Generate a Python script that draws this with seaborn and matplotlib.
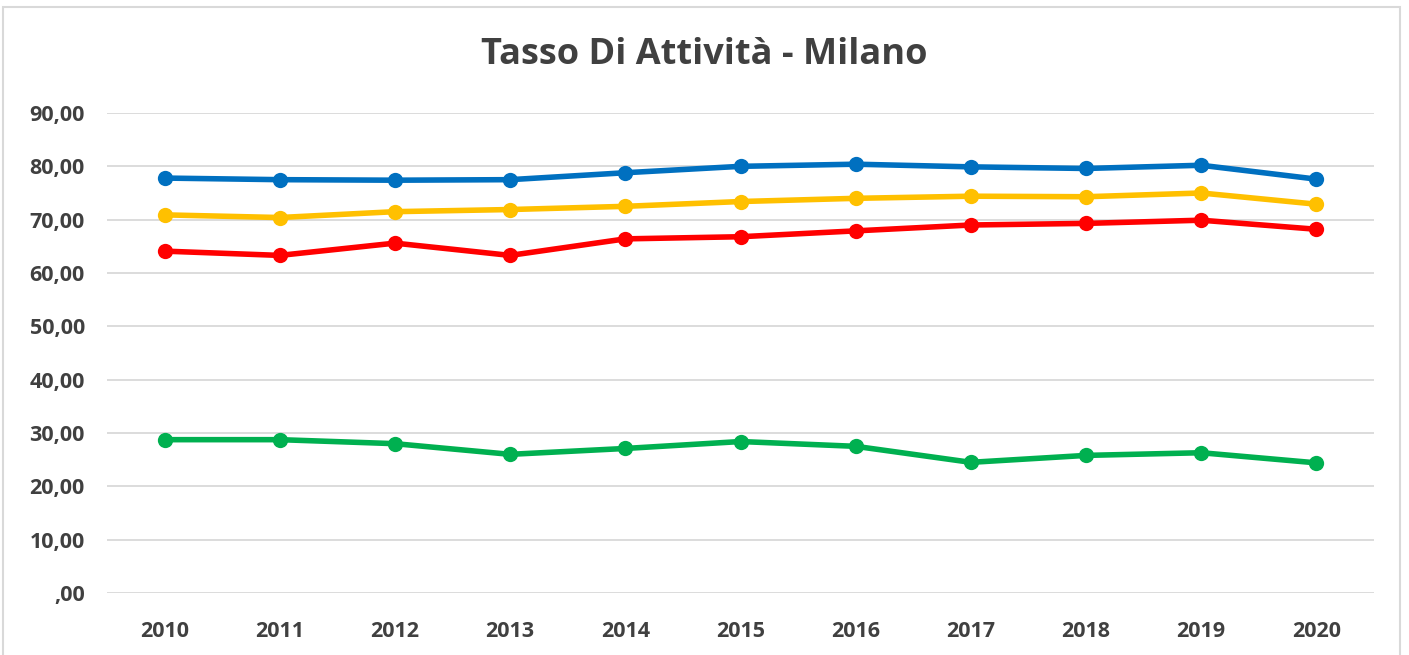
import matplotlib
matplotlib.use("Agg")
import matplotlib.pyplot as plt
import seaborn as sns
import pandas as pd
from matplotlib.patches import Rectangle

years = ["2010", "2011", "2012", "2013", "2014", "2015", "2016", "2017", "2018", "2019", "2020"]
blue_vals = [77.8, 77.5, 77.4, 77.5, 78.8, 80.0, 80.4, 79.9, 79.6, 80.2, 77.6]
yellow_vals = [70.9, 70.4, 71.5, 71.9, 72.5, 73.4, 74.0, 74.4, 74.3, 75.0, 72.9]
red_vals = [64.1, 63.3, 65.6, 63.3, 66.4, 66.8, 67.9, 69.0, 69.3, 69.9, 68.2]
green_vals = [28.75, 28.75, 28.0, 26.0, 27.1, 28.4, 27.5, 24.5, 25.8, 26.3, 24.4]
series_names = ["Maschi", "Totale", "Femmine", "15-24 anni"]
series_colors = ["#0070C0", "#FFC000", "#FF0000", "#00B050"]
y_ticks = [0, 10, 20, 30, 40, 50, 60, 70, 80, 90]
y_tick_labels = [",00", "10,00", "20,00", "30,00", "40,00", "50,00", "60,00", "70,00", "80,00", "90,00"]
title = "Tasso Di Attività - Milano"

rows = []
for name, vals in zip(series_names, [blue_vals, yellow_vals, red_vals, green_vals]):
    for i, (yr, v) in enumerate(zip(years, vals)):
        rows.append({"idx": i, "anno": yr, "serie": name, "valore": v})
df = pd.DataFrame(rows)

sns.set_theme(style="white")
plt.rcParams["font.family"] = ["Open Sans", "DejaVu Sans"]

W, H = 1409, 655
fig = plt.figure(figsize=(W / 100, H / 100), dpi=100)
ax = fig.add_axes([107 / W, 1 - 593 / H, (1374 - 107) / W, (593 - 113) / H])

sns.lineplot(data=df, x="idx", y="valore", hue="serie", hue_order=series_names,
             palette=series_colors, marker="o", markersize=11, markeredgewidth=0,
             linewidth=4.0, legend=False, ax=ax, zorder=3)

ax.set_xlim(-0.5, len(years) - 0.5)
ax.set_ylim(0, 90)
ax.set_yticks(y_ticks)
ax.set_yticklabels(y_tick_labels)
ax.set_xticks(range(len(years)))
ax.set_xticklabels(years)
ax.yaxis.grid(True, color="#D9D9D9", linewidth=1.3, zorder=0)
ax.xaxis.grid(False)
for s in ax.spines.values():
    s.set_visible(False)
ax.tick_params(axis="both", length=0, labelsize=15.5, labelcolor="#404040")
ax.tick_params(axis="y", pad=16)
ax.tick_params(axis="x", pad=20)
for lbl in ax.get_xticklabels() + ax.get_yticklabels():
    lbl.set_fontweight("bold")
ax.set_xlabel("")
ax.set_ylabel("")

fig.text(0.5, 1 - 55 / H, title, ha="center", va="center", fontsize=26,
         fontweight="bold", color="#404040")

fig.patches.append(Rectangle((3 / W, -0.05), (1400 - 3) / W, 1 - 7 / H + 0.05,
                             transform=fig.transFigure, fill=False,
                             edgecolor="#D9D9D9", linewidth=1.5))

fig.savefig("out.png", dpi=100)
